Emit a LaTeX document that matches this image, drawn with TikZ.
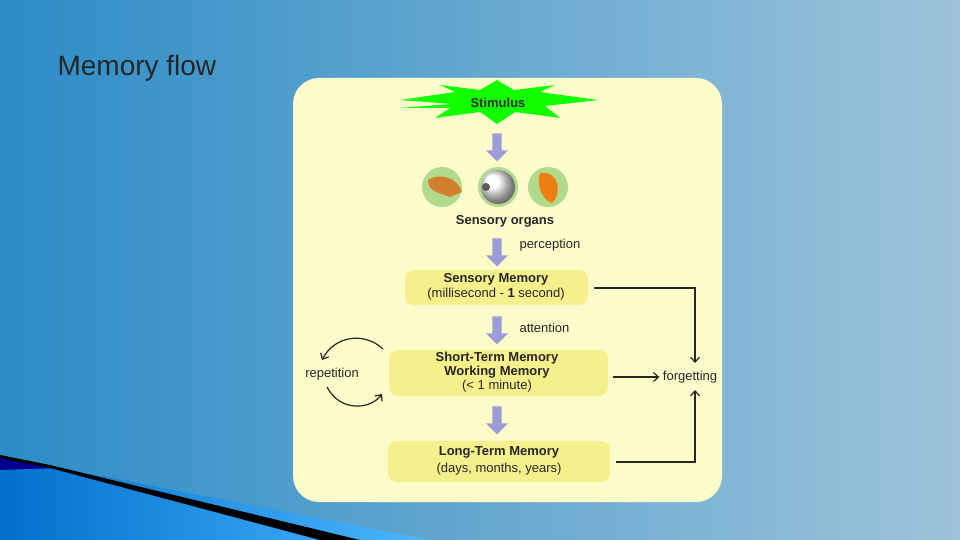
\documentclass[tikz,border=0pt]{standalone}
\usepackage{fontspec}
\setmainfont{Liberation Sans}
\usetikzlibrary{arrows.meta,shapes.arrows}
\definecolor{panel}{HTML}{FCFCCB}
\definecolor{boxy}{HTML}{F6F08C}
\definecolor{lav}{HTML}{9C9CDA}
\definecolor{bgL}{HTML}{2C8CC6}
\definecolor{bgR}{HTML}{9EC4DA}
\tikzset{
  memb/.style={fill=boxy,rounded corners=9pt,draw=none},
  bigarr/.style={single arrow,fill=lav,draw=none,shape border rotate=270,minimum height=28pt,minimum width=22pt,single arrow head extend=3pt,inner sep=2pt},
  blbl/.style={font=\bfseries\fontsize{13}{14}\selectfont,text=black!85,align=center},
  nlbl/.style={font=\fontsize{13}{14}\selectfont,text=black!85},
  conn/.style={draw=black!85,line width=1.2pt,-{Straight Barb[length=5pt,width=9pt]}},
  organ/.style={circle,minimum size=40pt,fill=green!35!olive!45,draw=none}
}
\begin{document}
\begin{tikzpicture}[x=1pt,y=-1pt]
\useasboundingbox (0,0) rectangle (960,540);
\shade[left color=bgL,right color=bgR] (0,0) rectangle (960,540);
% bottom-left swoosh
\fill[blue!55!black] (0,455) -- (50,466) -- (330,540) -- (0,540) -- cycle;
\shade[left color=blue!45!cyan!80!black,right color=cyan!60!blue!70] (0,470) -- (60,468) -- (430,540) -- (0,540) -- cycle;
\fill[black] (0,455) -- (50,465) -- (360,540) -- (320,540) -- (50,468) -- (0,458) -- cycle;
\node[anchor=west,font=\fontsize{28}{32}\selectfont,text=black!85] (title) at (54,68) {Memory flow};
% panel
\fill[panel,rounded corners=26pt] (293,78) rectangle (722,502);
% stimulus star
\fill[green!90!lime] (400,100) -- (455,92) -- (440,85) -- (480,90) -- (497,80) -- (514,90) -- (555,85) -- (540,92) -- (598,100)
 -- (545,106) -- (560,118) -- (515,112) -- (497,124) -- (480,112) -- (435,118) -- (450,108) -- (398,108) -- (452,104) -- cycle;
\node[font=\bfseries\fontsize{13}{14}\selectfont,text=black!80] (stim) at (498,103) {Stimulus};
\node[bigarr] (a1) at (497,145) {};
% organs
\node[organ] (nose) at (442,187) {};
\fill[brown!70!orange] (428,180) .. controls (440,172) and (458,178) .. (462,192) -- (450,197) .. controls (440,193) and (428,192) .. cycle;
\node[organ] (eye) at (498,187) {};
\shade[ball color=white] (498,187) circle (17);
\fill[gray!70!black] (486,187) circle (4);
\node[organ] (ear) at (548,187) {};
\fill[orange!70!brown] (540,173) .. controls (560,170) and (562,195) .. (552,203) .. controls (542,200) and (536,185) .. cycle;
\node[blbl] (sens) at (505,221) {Sensory organs};
\node[bigarr] (a2) at (497,250) {};
\node[nlbl,anchor=west] (perc) at (516,245) {perception};
% boxes
\fill[memb] (405,270) rectangle (588,305);
\node[align=center,font=\fontsize{13}{15}\selectfont,text=black!85] (sm) at (496,287) {\textbf{Sensory Memory}\\(millisecond - \textbf{1} second)};
\node[bigarr] (a3) at (497,328) {};
\node[nlbl,anchor=west] (att) at (516,328) {attention};
\fill[memb] (389,350) rectangle (608,396);
\node[align=center,font=\fontsize{13}{14}\selectfont,text=black!85] (stm) at (497,372) {\textbf{Short-Term Memory}\\\textbf{Working Memory}\\(< 1 minute)};
\node[bigarr] (a4) at (497,418) {};
\fill[memb] (388,441) rectangle (610,482);
\node[align=center,font=\fontsize{13}{17}\selectfont,text=black!85] (ltm) at (499,461) {\textbf{Long-Term Memory}\\(days, months, years)};
\node[nlbl] (forg) at (690,377) {forgetting};
\node[nlbl] (rep) at (332,374) {repetition};
\coordinate (smr) at (594,288);
\coordinate (stmr) at (613,377);
\coordinate (ltmr) at (616,462);
\draw[conn] (smr) -- (695,288) -- (695,363);
\draw[conn] (stmr) -- (forg.west |- stmr);
\draw[conn] (ltmr) -- (695,462) -- (695,390);
\coordinate (r1) at (383,349);
\coordinate (r2) at (322,360);
\coordinate (r3) at (327,387);
\coordinate (r4) at (382,394);
\draw[conn] (r1) .. controls (365,332) and (335,335) .. (r2);
\draw[conn] (r3) .. controls (340,412) and (370,410) .. (r4);
\end{tikzpicture}
\end{document}
